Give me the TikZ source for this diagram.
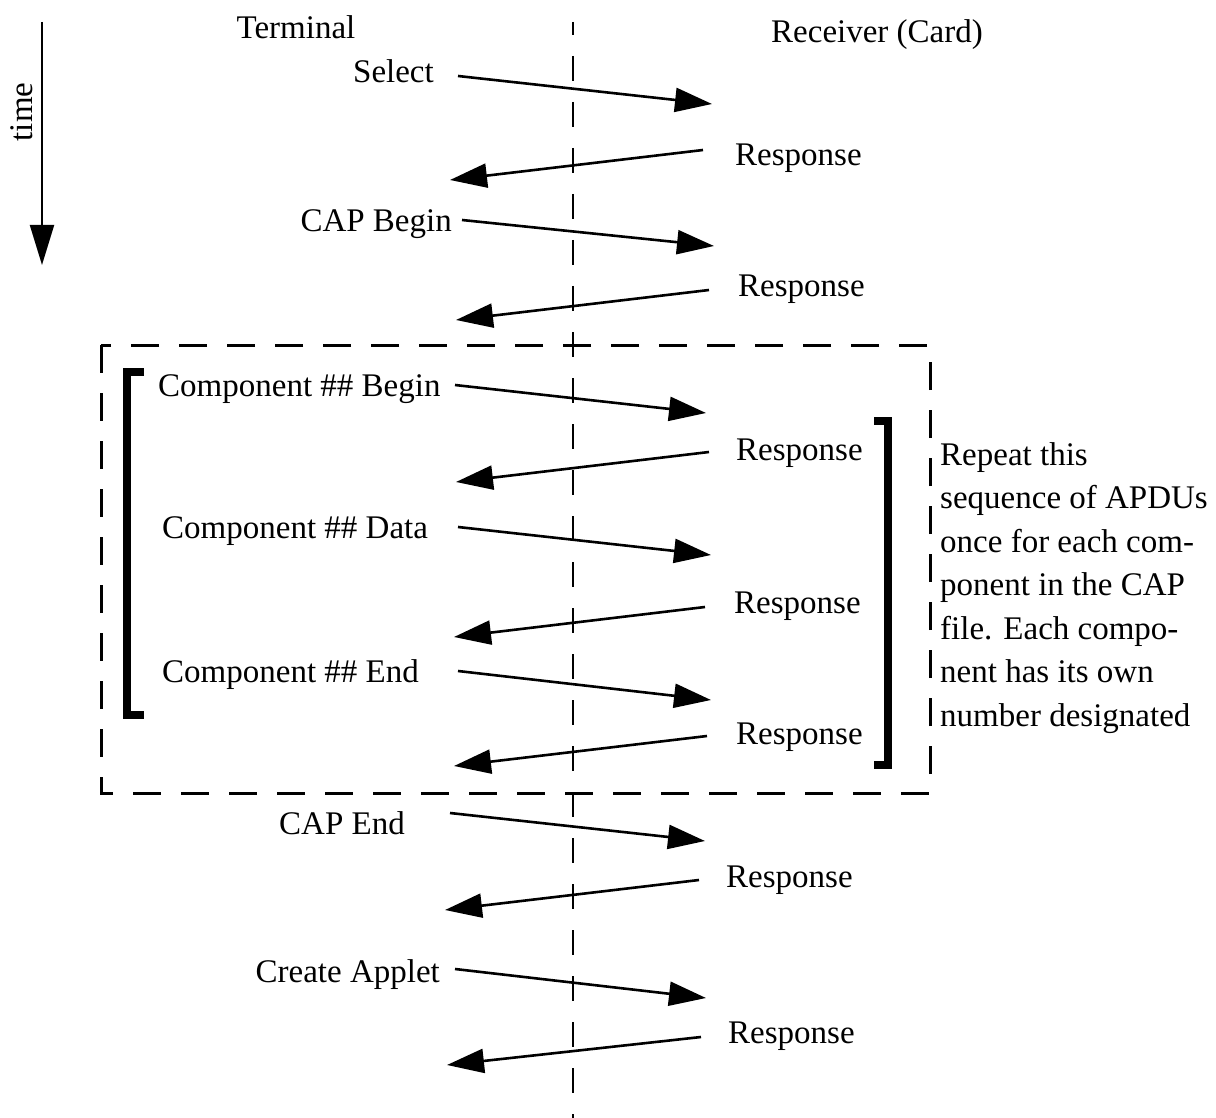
\documentclass[tikz,border=0pt]{standalone}
\usepackage{fontspec}
\setmainfont{Liberation Serif}
\usetikzlibrary{arrows.meta}
\begin{document}
\begin{tikzpicture}[x=1pt,y=-1pt,
  lbl/.style={inner sep=0pt, font=\fontsize{33}{43.5}\selectfont},
  msg/.style={line width=2.6pt, -{Triangle[length=37pt,width=24pt]}},
  lifeline/.style={line width=1.8pt, dash pattern=on 25pt off 21pt, dash phase=12pt},
  loopbox/.style={line width=3pt, dash pattern=on 28pt off 20pt},
  brace/.style={line width=8pt, miter limit=4}
]
\useasboundingbox (0,0) rectangle (1216,1118);

% time axis
\draw[line width=2pt, -{Triangle[length=40pt,width=24pt]}] (42,22) coordinate (t0) -- (42,265) coordinate (t1);
\node[lbl, rotate=90] (time) at (22,112) {time};

% separation between terminal and card
\draw[lifeline] (573,22) coordinate (l0) -- (573,1118) coordinate (l1);

% column headings
\node[lbl, anchor=base] (term) at (296,39) {Terminal};
\node[lbl, anchor=base] (card) at (877,43) {Receiver (Card)};

% commands
\node[lbl, anchor=base east] (sel)  at (434,83)  {Select};
\node[lbl, anchor=base east] (capb) at (452,232) {CAP Begin};
\node[lbl, anchor=base west] (cb)   at (158,396) {Component \#\# Begin};
\node[lbl, anchor=base west] (cd)   at (162,538) {Component \#\# Data};
\node[lbl, anchor=base west] (ce)   at (162,682) {Component \#\# End};
\node[lbl, anchor=base east] (cape) at (405,834) {CAP End};
\node[lbl, anchor=base east] (crea) at (440,982) {Create Applet};

% responses
\node[lbl, anchor=base west] (r1) at (735,166)  {Response};
\node[lbl, anchor=base west] (r2) at (738,296)  {Response};
\node[lbl, anchor=base west] (r3) at (736,460)  {Response};
\node[lbl, anchor=base west] (r4) at (734,613)  {Response};
\node[lbl, anchor=base west] (r5) at (736,744)  {Response};
\node[lbl, anchor=base west] (r6) at (726,887)  {Response};
\node[lbl, anchor=base west] (r7) at (728,1043) {Response};

% message end points
\coordinate (a1) at (458,76);  \coordinate (b1) at (712,104);
\coordinate (a2) at (462,220); \coordinate (b2) at (714,246);
\coordinate (a3) at (455,385); \coordinate (b3) at (706,413);
\coordinate (a4) at (458,527); \coordinate (b4) at (711,555);
\coordinate (a5) at (458,671); \coordinate (b5) at (711,700);
\coordinate (a6) at (450,813); \coordinate (b6) at (705,841);
\coordinate (a7) at (455,969); \coordinate (b7) at (706,998);

\coordinate (c1) at (703,150);  \coordinate (d1) at (450,180);
\coordinate (c2) at (709,290);  \coordinate (d2) at (456,320);
\coordinate (c3) at (709,452);  \coordinate (d3) at (456,482);
\coordinate (c4) at (705,607);  \coordinate (d4) at (454,637);
\coordinate (c5) at (707,736);  \coordinate (d5) at (454,766);
\coordinate (c6) at (699,880);  \coordinate (d6) at (445,910);
\coordinate (c7) at (701,1037); \coordinate (d7) at (447,1065);

\foreach \i in {1,...,7}{
  \draw[msg] (a\i) -- (b\i);
  \draw[msg] (c\i) -- (d\i);
}

% repeated block
\draw[loopbox] (101,345) rectangle (930,793);
\draw[brace] (144,372) -- (127,372) -- (127,715) -- (144,715);
\draw[brace] (874,421) -- (888,421) -- (888,765) -- (874,765);

\node[lbl, anchor=north west, align=left] (note) at (940,442)
  {Repeat this\\sequence of APDUs\\once for each com-\\ponent in the CAP\\file. Each compo-\\nent has its own\\number designated};
\end{tikzpicture}
\end{document}
